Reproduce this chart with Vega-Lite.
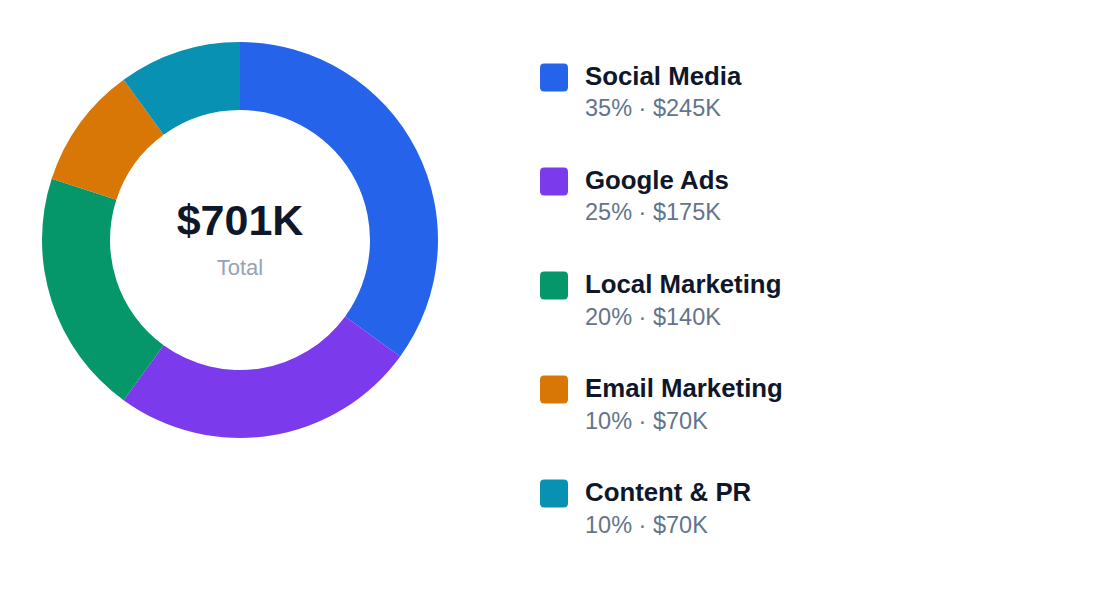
{
  "$schema": "https://vega.github.io/schema/vega-lite/v6.json",
  "background": "white",
  "padding": 0,
  "spacing": 0,
  "config": {
    "view": {"stroke": null},
    "font": "Liberation Sans"
  },
  "datasets": {
    "channels": [
      {"idx": 1, "category": "Social Media", "value": 245, "label": "35% · $245K"},
      {"idx": 2, "category": "Google Ads", "value": 175, "label": "25% · $175K"},
      {"idx": 3, "category": "Local Marketing", "value": 140, "label": "20% · $140K"},
      {"idx": 4, "category": "Email Marketing", "value": 70, "label": "10% · $70K"},
      {"idx": 5, "category": "Content & PR", "value": 70, "label": "10% · $70K"}
    ],
    "center": [
      {"big": "$701K", "small": "Total"}
    ]
  },
  "hconcat": [
    {
      "width": 480,
      "height": 480,
      "layer": [
        {
          "data": {"name": "channels"},
          "mark": {"type": "arc", "outerRadius": 198, "innerRadius": 130},
          "encoding": {
            "theta": {"field": "value", "type": "quantitative", "stack": true},
            "order": {"field": "idx", "type": "quantitative"},
            "color": {
              "field": "category",
              "type": "nominal",
              "legend": null,
              "scale": {
                "domain": ["Social Media", "Google Ads", "Local Marketing", "Email Marketing", "Content & PR"],
                "range": ["#2563eb", "#7c3aed", "#059669", "#d97706", "#0891b2"]
              }
            }
          }
        },
        {
          "data": {"name": "center"},
          "mark": {"type": "text", "fontSize": 43, "fontWeight": "bold", "color": "#0f172a", "baseline": "alphabetic", "dy": -5},
          "encoding": {"text": {"field": "big"}}
        },
        {
          "data": {"name": "center"},
          "mark": {"type": "text", "fontSize": 22, "color": "#94a3b8", "baseline": "alphabetic", "dy": 35},
          "encoding": {"text": {"field": "small"}}
        }
      ]
    },
    {
      "width": 148,
      "height": 571,
      "data": {"name": "channels"},
      "encoding": {
        "y": {
          "field": "category",
          "type": "nominal",
          "axis": null,
          "scale": {"type": "point", "padding": 0.745},
          "sort": {"field": "idx"}
        }
      },
      "layer": [
        {
          "mark": {
            "type": "point",
            "filled": true,
            "opacity": 1,
            "size": 784,
            "shape": "M-0.7,-1H0.7Q1,-1 1,-0.7V0.7Q1,1 0.7,1H-0.7Q-1,1 -1,0.7V-0.7Q-1,-1 -0.7,-1Z"
          },
          "encoding": {
            "color": {
              "field": "category",
              "type": "nominal",
              "legend": null,
              "scale": {
                "domain": ["Social Media", "Google Ads", "Local Marketing", "Email Marketing", "Content & PR"],
                "range": ["#2563eb", "#7c3aed", "#059669", "#d97706", "#0891b2"]
              }
            }
          }
        },
        {
          "mark": {"type": "text", "align": "left", "baseline": "alphabetic", "dx": 31, "dy": 7.5, "fontSize": 25.8, "fontWeight": "bold", "color": "#0f172a"},
          "encoding": {"text": {"field": "category"}}
        },
        {
          "mark": {"type": "text", "align": "left", "baseline": "alphabetic", "dx": 31, "dy": 39, "fontSize": 23.5, "color": "#64748b"},
          "encoding": {"text": {"field": "label"}}
        }
      ]
    }
  ]
}
